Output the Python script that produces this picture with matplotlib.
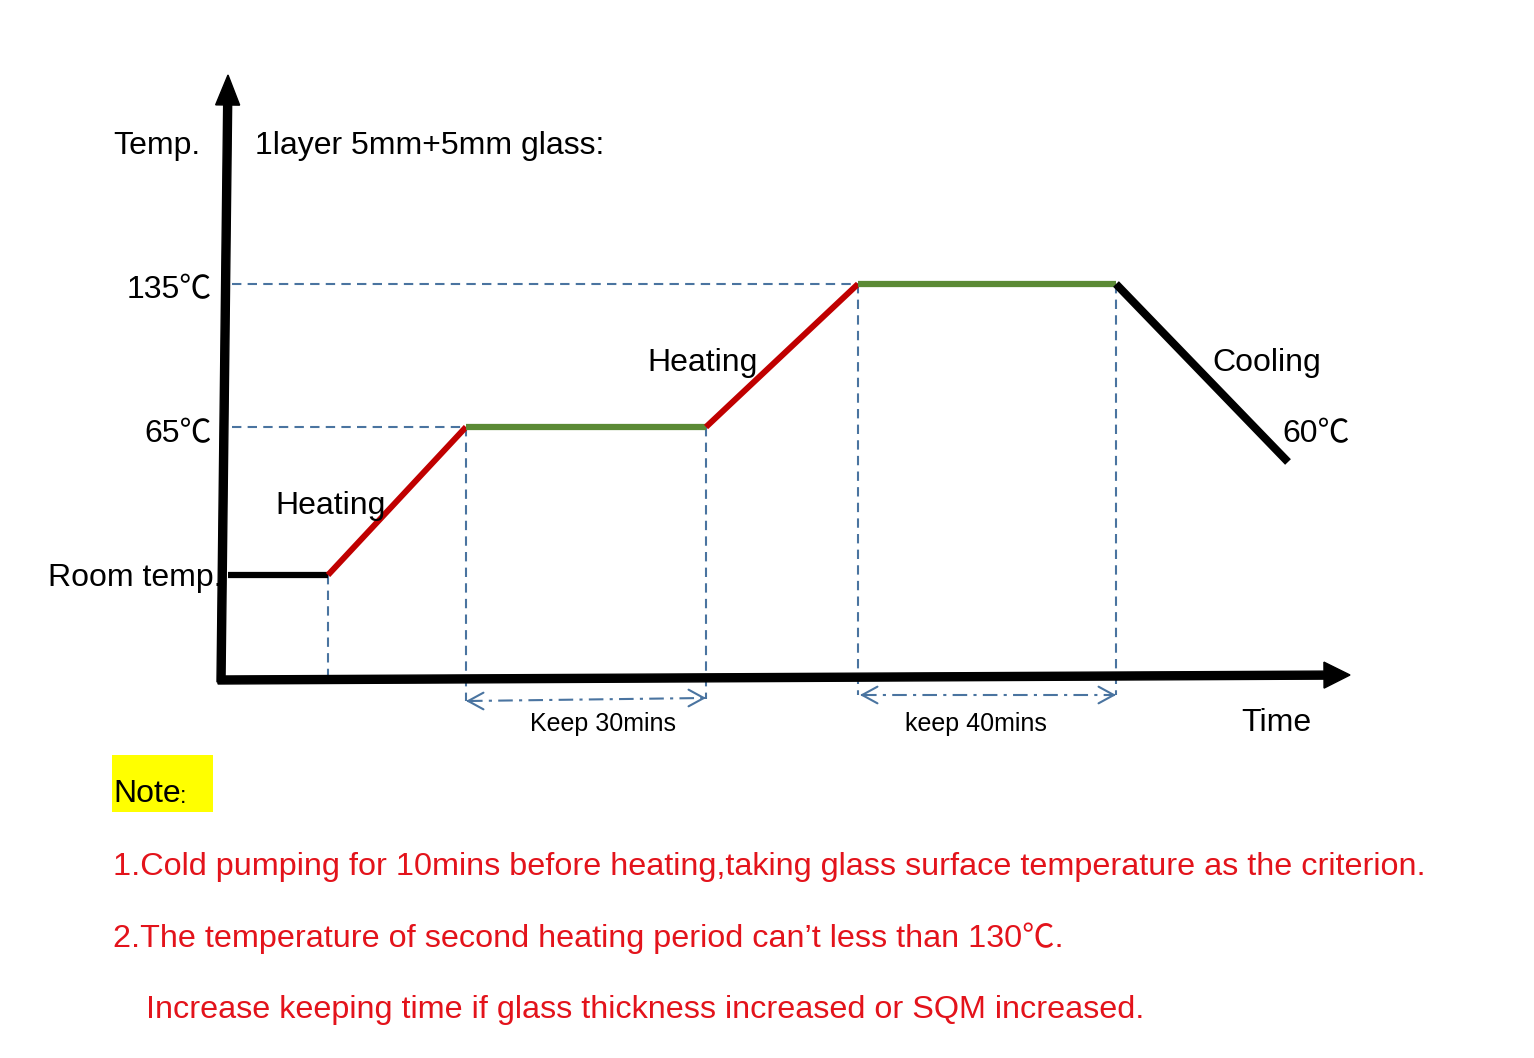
import matplotlib.pyplot as plt
from matplotlib.patches import Rectangle

plt.rcParams["font.family"] = ["Liberation Sans", "Noto Sans CJK SC", "DejaVu Sans"]

# ---- schematic profile (time units / height units above the time axis) ----
profile_t = [6, 106, 244, 484, 636, 894, 1066]
profile_T = [103, 103, 251, 251, 394, 394, 216]
seg_colors = ["black", "#c00000", "#5b8a35", "#c00000", "#5b8a35", "black"]
seg_widths = [4.5, 4.3, 4.5, 4.3, 4.5, 5.8]

level_labels = ["Room temp.", "65℃", "135℃"]
level_values = [103, 251, 394]

keep_spans = [(244, 484), (638, 894)]
keep_labels = ["Keep 30mins", "keep 40mins"]

notes = [
    "1.Cold pumping for 10mins before heating,taking glass surface temperature as the criterion.",
    "2.The temperature of second heating period can’t less than 130℃.",
    "Increase keeping time if glass thickness increased or SQM increased.",
]

W, H = 1534, 1058
OX, OY = 222, 678          # pixel position of the axis corner
BLUE = "#4a74a0"
RED_TXT = "#e3131b"

fig = plt.figure(figsize=(W / 100, H / 100), dpi=100, facecolor="white")
ax = fig.add_axes([0, 0, 1, 1])
ax.set_xlim(-OX, W - OX)
ax.set_ylim(OY - H, OY)
ax.axis("off")


def px(x, y):
    """pixel position -> figure fraction (for text layout)"""
    return x / W, 1 - y / H


# axes drawn as thick arrows
ax.arrow(-1, -4, 7, 607, width=8, head_width=24, head_length=30,
         length_includes_head=True, color="black", zorder=4)
ax.arrow(-4, -2, 1132, 5, width=8, head_width=26, head_length=26,
         length_includes_head=True, color="black", zorder=4)

# guide lines
dash = (0, (4.5, 3))
for lvl, t_end in zip(level_values[1:], (profile_t[2], profile_t[4])):
    ax.plot([10, t_end], [lvl, lvl], color=BLUE, lw=1.5, ls=dash, zorder=1)
ax.plot([profile_t[1]] * 2, [profile_T[1], 0], color=BLUE, lw=1.5, ls=dash, zorder=1)
for i, y_low in zip((2, 3, 4, 5), (-23, -21, -17, -17)):
    ax.plot([profile_t[i]] * 2, [profile_T[i], y_low], color=BLUE, lw=1.5, ls=dash, zorder=1)

# temperature profile
for i, (c, w) in enumerate(zip(seg_colors, seg_widths)):
    ax.plot(profile_t[i:i + 2], profile_T[i:i + 2], color=c, lw=w,
            solid_capstyle="butt", zorder=3)

# keep-time double arrows
for (a, b), (ya, yb) in zip(keep_spans, ((-23, -20), (-17, -17))):
    ax.plot([a + 2, b - 2], [ya, yb], color=BLUE, lw=1.5,
            ls=(0, (7, 3, 1.5, 3)), zorder=2)
    for tip, frm, yy in ((a, a + 3, ya), (b, b - 3, yb)):
        ax.annotate("", xy=(tip, yy), xytext=(frm, yy),
                    arrowprops=dict(arrowstyle="->,head_length=0.55,head_width=0.3",
                                    color=BLUE, lw=1.5, shrinkA=0, shrinkB=0,
                                    mutation_scale=20))

# labels
fs = 23
fig.text(*px(113, 146), "Temp.", fontsize=fs, va="center")
fig.text(*px(255, 146), "1layer 5mm+5mm glass:", fontsize=fs, va="center")
fig.text(*px(48, 578), level_labels[0], fontsize=fs, va="center")
fig.text(*px(212, 434), level_labels[1], fontsize=fs, va="center", ha="right")
fig.text(*px(212, 290), level_labels[2], fontsize=fs, va="center", ha="right")
fig.text(*px(275, 506), "Heating", fontsize=fs, va="center")
fig.text(*px(647, 363), "Heating", fontsize=fs, va="center")
fig.text(*px(1212, 363), "Cooling", fontsize=fs, va="center")
fig.text(*px(1282, 434), "60℃", fontsize=fs, va="center")
fig.text(*px(1241, 723), "Time", fontsize=fs, va="center")
fig.text(*px(603, 724), keep_labels[0], fontsize=18, va="center", ha="center")
fig.text(*px(976, 724), keep_labels[1], fontsize=18, va="center", ha="center")

# note block
fig.patches.append(Rectangle(px(112, 812), 101 / W, 57 / H, transform=fig.transFigure,
                             facecolor="#ffff00", edgecolor="none"))
fig.text(*px(113, 794), "Note", fontsize=fs, va="center")
fig.text(*px(180, 797), ":", fontsize=17, va="center")
for (x, y), line in zip(((113, 867), (113, 938), (146, 1010)), notes):
    fig.text(*px(x, y), line, fontsize=23.3, va="center", color=RED_TXT)

fig.savefig("out.png", dpi=100, facecolor="white")
